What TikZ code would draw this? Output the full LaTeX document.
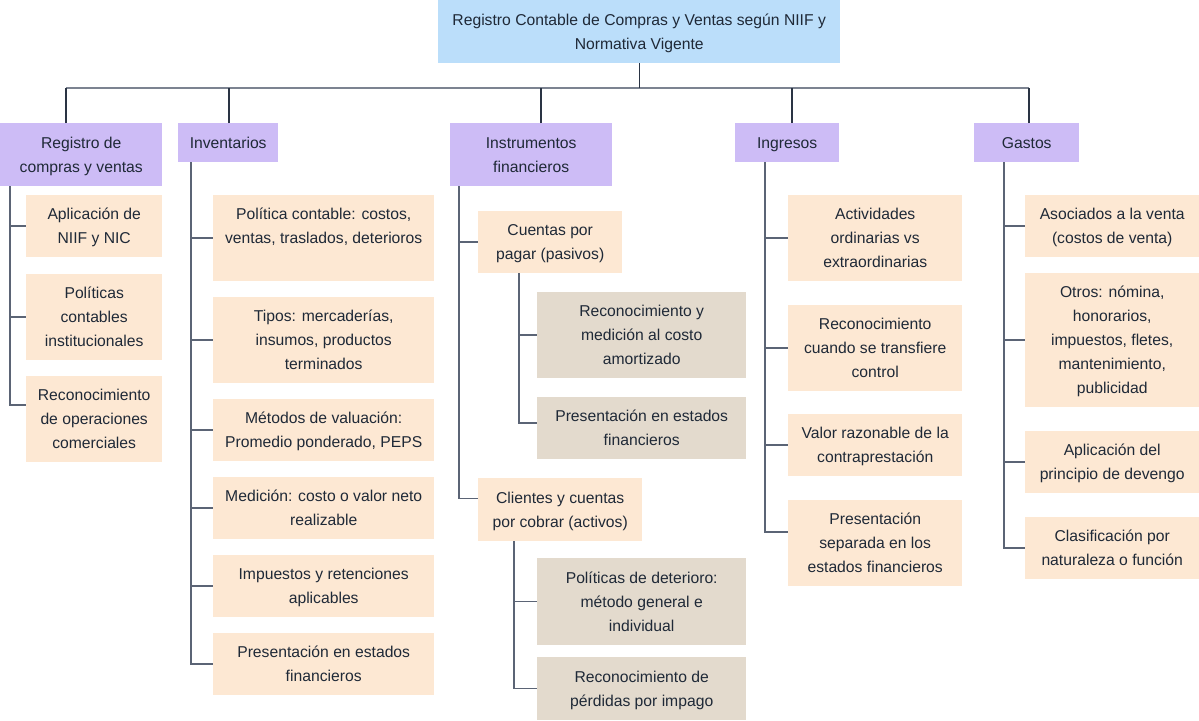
\documentclass[tikz,border=0pt]{standalone}
\usepackage{fontspec}
\setmainfont{Liberation Sans}
\usetikzlibrary{calc}

% colores
\definecolor{raiz}{HTML}{BBDEFA}
\definecolor{rama}{HTML}{CDBCF6}
\definecolor{hoja}{HTML}{FDE8D3}
\definecolor{subhoja}{HTML}{E3DACD}
\definecolor{texto}{HTML}{1F2937}
\definecolor{tronco}{HTML}{2A3444}
\definecolor{conector}{HTML}{5B6475}

\tikzset{
  caja/.style={anchor=north west, align=center, inner sep=0pt, text=texto,
    text depth=0pt, font=\fontsize{15.7}{24}\selectfont},
  raizbox/.style={caja, fill=raiz},
  ramabox/.style={caja, fill=rama},
  hojabox/.style={caja, fill=hoja},
  subbox/.style={caja, fill=subhoja},
  linea/.style={draw=conector, line width=1.5pt},
  troncolinea/.style={draw=tronco, line width=1.3pt},
  buslinea/.style={draw=conector!80, line width=2pt},
}

\begin{document}
\begin{tikzpicture}[x=1pt,y=-1pt]
\useasboundingbox (0,0) rectangle (1199,720);

% raiz
\node[raizbox, minimum width=402pt, minimum height=63pt] (root) at (438,0)
  {Registro Contable de Compras y Ventas según NIIF y\\Normativa Vigente};

% ramas principales
\node[ramabox, minimum width=162pt, minimum height=63pt] (reg) at (0,123) {Registro de\\compras y ventas};
\node[ramabox, minimum width=100pt, minimum height=39pt] (inv) at (178,123) {Inventarios};
\node[ramabox, minimum width=162pt, minimum height=63pt] (ins) at (450,123) {Instrumentos\\financieros};
\node[ramabox, minimum width=104pt, minimum height=39pt] (ing) at (735,123) {Ingresos};
\node[ramabox, minimum width=105pt, minimum height=39pt] (gas) at (974,123) {Gastos};

% bus horizontal
\coordinate (bus) at ($(root.south)+(0,25)$);
\coordinate (s1) at ($(reg.north west)+(66,0)$);
\coordinate (s2) at ($(inv.north west)+(51,0)$);
\coordinate (s3) at ($(ins.north west)+(91,0)$);
\coordinate (s4) at ($(ing.north west)+(57,0)$);
\coordinate (s5) at ($(gas.north west)+(55,0)$);
\draw[buslinea] (s1 |- bus) -- (s5 |- bus);
\draw[troncolinea] (root.south) -- (bus);
\foreach \s in {s1,s2,s3,s4,s5}
  \draw[troncolinea] (\s) -- (\s |- bus);

% Registro de compras y ventas
\node[hojabox, minimum width=136pt, minimum height=62pt] (reg1) at (26,195) {Aplicación de\\NIIF y NIC};
\node[hojabox, minimum width=136pt, minimum height=86pt] (reg2) at (26,274) {Políticas\\contables\\institucionales};
\node[hojabox, minimum width=136pt, minimum height=86pt] (reg3) at (26,376) {Reconocimiento\\de operaciones\\comerciales};
\coordinate (vreg) at ($(reg.south west)+(10,0)$);
\draw[linea] (vreg) |- (reg1.west);
\draw[linea] (vreg) |- (reg2.west);
\draw[linea] (vreg) |- ($(reg3.west)+(0,-14)$);

% Inventarios
\node[hojabox, minimum width=221pt, minimum height=86pt] (inv1) at (213,195) {Política contable: costos,\\ventas, traslados, deterioros\\ \strut};
\node[hojabox, minimum width=221pt, minimum height=86pt] (inv2) at (213,297) {Tipos: mercaderías,\\insumos, productos\\terminados};
\node[hojabox, minimum width=221pt, minimum height=62pt] (inv3) at (213,399) {Métodos de valuación:\\Promedio ponderado, PEPS};
\node[hojabox, minimum width=221pt, minimum height=62pt] (inv4) at (213,477) {Medición: costo o valor neto\\realizable};
\node[hojabox, minimum width=221pt, minimum height=62pt] (inv5) at (213,555) {Impuestos y retenciones\\aplicables};
\node[hojabox, minimum width=221pt, minimum height=62pt] (inv6) at (213,633) {Presentación en estados\\financieros};
\coordinate (vinv) at ($(inv.south west)+(13,0)$);
\foreach \n in {inv1,inv2,inv3,inv4,inv5,inv6}
  \draw[linea] (vinv) |- (\n.west);

% Instrumentos financieros
\node[hojabox, minimum width=144pt, minimum height=62pt] (pag) at (478,211) {Cuentas por\\pagar (pasivos)};
\node[hojabox, minimum width=164pt, minimum height=63pt] (cli) at (478,478) {Clientes y cuentas\\por cobrar (activos)};
\coordinate (vins) at ($(ins.south west)+(9,0)$);
\draw[linea] (vins) |- (pag.west);
\draw[linea] (vins) |- ($(cli.west)+(0,-11)$);

\node[subbox, minimum width=209pt, minimum height=86pt] (pag1) at (537,292) {Reconocimiento y\\medición al costo\\amortizado};
\node[subbox, minimum width=209pt, minimum height=62pt] (pag2) at (537,397) {Presentación en estados\\financieros};
\coordinate (vpag) at ($(pag.south west)+(41,0)$);
\draw[linea] (vpag) |- (pag1.west);
\draw[linea] (vpag) |- ($(pag2.west)+(0,-5)$);

\node[subbox, minimum width=209pt, minimum height=87pt] (cli1) at (537,558) {Políticas de deterioro:\\método general e\\individual};
\node[subbox, minimum width=209pt, minimum height=63pt] (cli2) at (537,657) {Reconocimiento de\\pérdidas por impago};
\coordinate (vcli) at ($(cli.south west)+(36,0)$);
\draw[linea] (vcli) |- (cli1.west);
\draw[linea] (vcli) |- (cli2.west);

% Ingresos
\node[hojabox, minimum width=174pt, minimum height=86pt] (ing1) at (788,195) {Actividades\\ordinarias vs\\extraordinarias};
\node[hojabox, minimum width=174pt, minimum height=86pt] (ing2) at (788,305) {Reconocimiento\\cuando se transfiere\\control};
\node[hojabox, minimum width=174pt, minimum height=62pt] (ing3) at (788,414) {Valor razonable de la\\contraprestación};
\node[hojabox, minimum width=174pt, minimum height=86pt] (ing4) at (788,500) {Presentación\\separada en los\\estados financieros};
\coordinate (ving) at ($(ing.south west)+(30,0)$);
\draw[linea] (ving) |- (ing1.west);
\draw[linea] (ving) |- (ing2.west);
\draw[linea] (ving) |- (ing3.west);
\draw[linea] (ving) |- ($(ing4.west)+(0,-11)$);

% Gastos
\node[hojabox, minimum width=174pt, minimum height=62pt] (gas1) at (1025,195) {Asociados a la venta\\(costos de venta)};
\node[hojabox, minimum width=174pt, minimum height=134pt] (gas2) at (1025,273) {Otros: nómina,\\honorarios,\\impuestos, fletes,\\mantenimiento,\\publicidad};
\node[hojabox, minimum width=174pt, minimum height=62pt] (gas3) at (1025,431) {Aplicación del\\principio de devengo};
\node[hojabox, minimum width=174pt, minimum height=62pt] (gas4) at (1025,517) {Clasificación por\\naturaleza o función};
\coordinate (vgas) at ($(gas.south west)+(30,0)$);
\foreach \n in {gas1,gas2,gas3,gas4}
  \draw[linea] (vgas) |- (\n.west);

\end{tikzpicture}
\end{document}
